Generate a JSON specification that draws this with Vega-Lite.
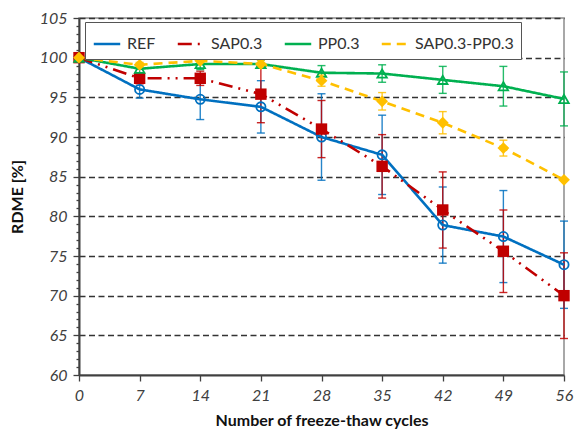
{
  "$schema": "https://vega.github.io/schema/vega-lite/v6.json",
  "width": 485,
  "height": 357,
  "autosize": "none",
  "padding": {"left": 79, "top": 18, "right": 10, "bottom": 59},
  "background": "white",
  "data": {"values": [
    {"s": "REF", "x": 0, "v": 100, "e": 0},
    {"s": "REF", "x": 7, "v": 96.0, "e": 1.1},
    {"s": "REF", "x": 14, "v": 94.75, "e": 2.55},
    {"s": "REF", "x": 21, "v": 93.8, "e": 3.3},
    {"s": "REF", "x": 28, "v": 90.0, "e": 5.45},
    {"s": "REF", "x": 35, "v": 87.75, "e": 5.0},
    {"s": "REF", "x": 42, "v": 78.9, "e": 4.8},
    {"s": "REF", "x": 49, "v": 77.45, "e": 5.8},
    {"s": "REF", "x": 56, "v": 73.9, "e": 5.5},
    {"s": "SAP0.3", "x": 0, "v": 100, "e": 0},
    {"s": "SAP0.3", "x": 7, "v": 97.4, "e": 0.7},
    {"s": "SAP0.3", "x": 14, "v": 97.4, "e": 0.9},
    {"s": "SAP0.3", "x": 21, "v": 95.4, "e": 3.6},
    {"s": "SAP0.3", "x": 28, "v": 91.0, "e": 3.6},
    {"s": "SAP0.3", "x": 35, "v": 86.3, "e": 4.0},
    {"s": "SAP0.3", "x": 42, "v": 80.8, "e": 4.8},
    {"s": "SAP0.3", "x": 49, "v": 75.6, "e": 5.2},
    {"s": "SAP0.3", "x": 56, "v": 70.0, "e": 5.4},
    {"s": "PP0.3", "x": 0, "v": 100, "e": 0},
    {"s": "PP0.3", "x": 7, "v": 98.6, "e": 0.5},
    {"s": "PP0.3", "x": 14, "v": 99.2, "e": 0.7},
    {"s": "PP0.3", "x": 21, "v": 99.2, "e": 0.5},
    {"s": "PP0.3", "x": 28, "v": 98.1, "e": 0.9},
    {"s": "PP0.3", "x": 35, "v": 98.0, "e": 1.1},
    {"s": "PP0.3", "x": 42, "v": 97.2, "e": 1.7},
    {"s": "PP0.3", "x": 49, "v": 96.4, "e": 2.5},
    {"s": "PP0.3", "x": 56, "v": 94.8, "e": 3.4},
    {"s": "SAP0.3-PP0.3", "x": 0, "v": 100, "e": 0},
    {"s": "SAP0.3-PP0.3", "x": 7, "v": 99.1, "e": 0.3},
    {"s": "SAP0.3-PP0.3", "x": 14, "v": 99.6, "e": 0.3},
    {"s": "SAP0.3-PP0.3", "x": 21, "v": 99.2, "e": 0.5},
    {"s": "SAP0.3-PP0.3", "x": 28, "v": 97.1, "e": 0.7},
    {"s": "SAP0.3-PP0.3", "x": 35, "v": 94.5, "e": 1.1},
    {"s": "SAP0.3-PP0.3", "x": 42, "v": 91.8, "e": 1.4},
    {"s": "SAP0.3-PP0.3", "x": 49, "v": 88.6, "e": 1.0},
    {"s": "SAP0.3-PP0.3", "x": 56, "v": 84.6, "e": 0}
  ]},
  "encoding": {
    "x": {
      "field": "x", "type": "quantitative",
      "scale": {"domain": [0, 56], "nice": false, "zero": false},
      "axis": {
        "values": [0, 7, 14, 21, 28, 35, 42, 49, 56],
        "grid": false,
        "labelFlush": false,
        "tickSize": 6,
        "labelPadding": 6,
        "title": "Number of freeze-thaw cycles",
        "titlePadding": 9
      }
    },
    "y": {
      "field": "v", "type": "quantitative",
      "scale": {"domain": [60, 105], "nice": false, "zero": false},
      "axis": {
        "values": [60, 61, 62, 63, 64, 65, 66, 67, 68, 69, 70, 71, 72, 73, 74, 75, 76, 77, 78, 79, 80, 81, 82, 83, 84, 85, 86, 87, 88, 89, 90, 91, 92, 93, 94, 95, 96, 97, 98, 99, 100, 101, 102, 103, 104, 105],
        "labelExpr": "datum.value % 5 === 0 ? datum.label : ''",
        "labelOverlap": false,
        "labelPadding": 6,
        "tickSize": {"condition": {"test": "datum.value % 5 === 0", "value": 6}, "value": 3},
        "grid": true,
        "gridColor": "#333333",
        "gridDash": [6, 3.5],
        "gridWidth": 1.3,
        "gridOpacity": {"condition": {"test": "datum.value % 5 === 0 && datum.value > 60", "value": 1}, "value": 0},
        "title": "RDME [%]",
        "titlePadding": 14
      }
    }
  },
  "layer": [
    {
      "transform": [{"filter": "datum.e > 0 && datum.s === 'REF'"}],
      "mark": {"type": "errorbar", "ticks": {"size": 8}, "thickness": 1.4, "color": "#0070C0", "opacity": 0.85},
      "encoding": {"yError": {"field": "e"}}
    },
    {
      "transform": [{"filter": "datum.e > 0 && datum.s === 'SAP0.3'"}],
      "mark": {"type": "errorbar", "ticks": {"size": 8}, "thickness": 1.4, "color": "#C00000", "opacity": 0.85},
      "encoding": {"yError": {"field": "e"}}
    },
    {
      "transform": [{"filter": "datum.e > 0 && datum.s === 'PP0.3'"}],
      "mark": {"type": "errorbar", "ticks": {"size": 8}, "thickness": 1.4, "color": "#00B050", "opacity": 0.85},
      "encoding": {"yError": {"field": "e"}}
    },
    {
      "transform": [{"filter": "datum.e > 0 && datum.s === 'SAP0.3-PP0.3'"}],
      "mark": {"type": "errorbar", "ticks": {"size": 8}, "thickness": 1.4, "color": "#FFC000", "opacity": 0.85},
      "encoding": {"yError": {"field": "e"}}
    },
    {
      "mark": {"type": "line", "strokeWidth": 2.6},
      "encoding": {
        "color": {
          "field": "s", "type": "nominal",
          "scale": {"domain": ["REF", "SAP0.3", "PP0.3", "SAP0.3-PP0.3"], "range": ["#0070C0", "#C00000", "#00B050", "#FFC000"]},
          "legend": {"title": null, "orient": "none", "legendX": 6, "legendY": 4, "direction": "horizontal", "padding": 7, "fillColor": "white", "strokeColor": "#555555", "symbolSize": 700, "symbolStrokeWidth": 2.6, "labelOffset": 5, "columnPadding": 16, "labelFont": "Lato", "labelFontSize": 16, "labelColor": "#333333"}
        },
        "strokeDash": {
          "field": "s", "type": "nominal",
          "scale": {"domain": ["REF", "SAP0.3", "PP0.3", "SAP0.3-PP0.3"], "range": [[1, 0], [14, 6, 2, 6, 2, 6], [1, 0], [9, 6]]},
          "legend": {"title": null, "orient": "none", "legendX": 6, "legendY": 4, "direction": "horizontal", "padding": 7, "fillColor": "white", "strokeColor": "#555555", "symbolSize": 700, "symbolStrokeWidth": 2.6, "labelOffset": 5, "columnPadding": 16, "labelFont": "Lato", "labelFontSize": 16, "labelColor": "#333333"}
        }
      }
    },
    {
      "transform": [{"filter": {"field": "s", "equal": "REF"}}],
      "mark": {"type": "point", "shape": "circle", "size": 85, "filled": false, "color": "#0070C0", "strokeWidth": 1.8, "opacity": 1}
    },
    {
      "transform": [{"filter": {"field": "s", "equal": "SAP0.3"}}],
      "mark": {"type": "point", "shape": "square", "size": 130, "filled": true, "color": "#C00000", "opacity": 1}
    },
    {
      "transform": [{"filter": {"field": "s", "equal": "PP0.3"}}],
      "mark": {"type": "point", "shape": "triangle-up", "size": 90, "filled": false, "color": "#00B050", "strokeWidth": 1.8, "opacity": 1}
    },
    {
      "transform": [{"filter": {"field": "s", "equal": "SAP0.3-PP0.3"}}],
      "mark": {"type": "point", "shape": "diamond", "size": 140, "filled": true, "color": "#FFC000", "opacity": 1}
    }
  ],
  "config": {
    "font": "Lato",
    "view": {"stroke": "#8c8c8c", "strokeWidth": 1.5},
    "axis": {
      "domainColor": "#404040",
      "domainWidth": 2,
      "tickColor": "#404040",
      "tickWidth": 1.3,
      "labelFont": "Lato",
      "labelFontSize": 16,
      "labelFontStyle": "italic",
      "labelColor": "#404040",
      "titleFont": "Lato",
      "titleFontSize": 16,
      "titleFontWeight": "bold",
      "titleColor": "#111111"
    }
  }
}
